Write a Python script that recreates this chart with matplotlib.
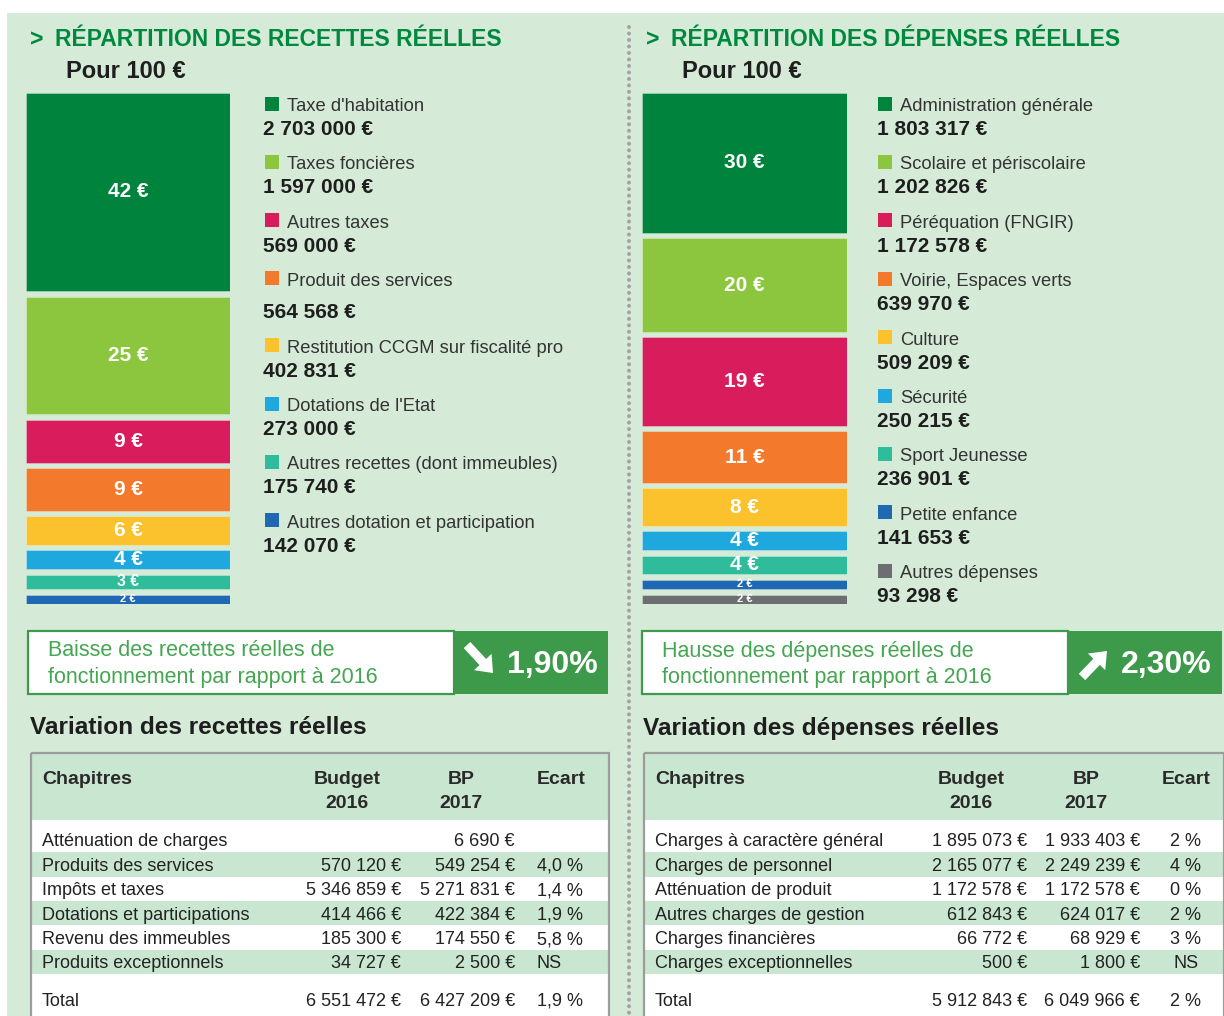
import matplotlib
matplotlib.use("Agg")
import matplotlib.pyplot as plt
from matplotlib.patches import Rectangle, FancyArrow
import numpy as np

# --- data ---------------------------------------------------------------
recettes_labels = ["Taxe d'habitation", "Taxes foncières", "Autres taxes",
                   "Produit des services", "Restitution CCGM sur fiscalité pro",
                   "Dotations de l'Etat", "Autres recettes (dont immeubles)",
                   "Autres dotation et participation"]
recettes_montants = [2703000, 1597000, 569000, 564568, 402831, 273000, 175740, 142070]
recettes_pour100 = [42, 25, 9, 9, 6, 4, 3, 2]

depenses_labels = ["Administration générale", "Scolaire et périscolaire",
                   "Péréquation (FNGIR)", "Voirie, Espaces verts", "Culture",
                   "Sécurité", "Sport Jeunesse", "Petite enfance", "Autres dépenses"]
depenses_montants = [1803317, 1202826, 1172578, 639970, 509209, 250215, 236901, 141653, 93298]
depenses_pour100 = [30, 20, 19, 11, 8, 4, 4, 2, 2]

rec_chapitres = ["Atténuation de charges", "Produits des services", "Impôts et taxes",
                 "Dotations et participations", "Revenu des immeubles",
                 "Produits exceptionnels"]
rec_budget2016 = [None, 570120, 5346859, 414466, 185300, 34727]
rec_bp2017 = [6690, 549254, 5271831, 422384, 174550, 2500]
rec_ecart = ["", "4,0 %", "1,4 %", "1,9 %", "5,8 %", "NS"]
rec_total = [6551472, 6427209, "1,9 %"]

dep_chapitres = ["Charges à caractère général", "Charges de personnel",
                 "Atténuation de produit", "Autres charges de gestion",
                 "Charges financières", "Charges exceptionnelles"]
dep_budget2016 = [1895073, 2165077, 1172578, 612843, 66772, 500]
dep_bp2017 = [1933403, 2249239, 1172578, 624017, 68929, 1800]
dep_ecart = ["2 %", "4 %", "0 %", "2 %", "3 %", "NS"]
dep_total = [5912843, 6049966, "2 %"]

variation_recettes = "1,90%"
variation_depenses = "2,30%"

colors9 = ["#00843d", "#8cc63f", "#d91c5b", "#f37a2d", "#fbc22d",
           "#1ea8de", "#2ebc9b", "#1f68b4", "#6d6e71"]

# --- style --------------------------------------------------------------
BG = "#d5ebd7"
TITLE_GREEN = "#00893e"
BOX_GREEN = "#3c9a4a"
TEXT_GREEN = "#45a651"
BAND = "#c9e6d0"
DARK = "#1e1e1e"

plt.rcParams["font.family"] = ["Liberation Sans", "DejaVu Sans"]


def euros(v):
    if v is None:
        return ""
    return f"{v:,}".replace(",", " ") + " €"


fig = plt.figure(figsize=(12.24, 10.16), dpi=100)
fig.patch.set_facecolor("white")
ax = fig.add_axes([0, 0, 1, 1])
ax.set_xlim(0, 1224)
ax.set_ylim(1016, 0)
ax.axis("off")

ax.add_patch(Rectangle((7, 13), 1217, 1003, fc=BG, ec="none", zorder=0))
# dotted separator
ax.plot([629, 629], [27, 1016], color="#a3a3a3", lw=2.9,
        ls=(0, (0.01, 1.6)), dash_capstyle="round", zorder=1)


def titles(x, title):
    ax.text(x, 40, ">", color=TITLE_GREEN, fontsize=16.5, fontweight="bold",
            va="center")
    ax.text(x + 25, 40, title, color=TITLE_GREEN, fontsize=16.5,
            fontweight="bold", va="center")
    ax.text(x + 36, 71, "Pour 100 €", color=DARK, fontsize=17,
            fontweight="bold", va="center")


def stack(x0, x1, y0, y1, pour100, colors):
    fx0, fx1 = x0 / 1224, x1 / 1224
    bax = fig.add_axes([fx0, 1 - y1 / 1016, fx1 - fx0, (y1 - y0) / 1016])
    bax.axis("off")
    shares = np.array(pour100, dtype=float)
    gap = 1.2
    total = shares.sum() + gap * (len(shares) - 1)
    bax.set_xlim(0, 1)
    bax.set_ylim(total, 0)
    k = (y1 - y0) / total
    bottoms = np.concatenate([[0], np.cumsum(shares)[:-1]]) + gap * np.arange(len(shares))
    bars = bax.bar(0.5, shares, width=1.0, bottom=bottoms, color=colors,
                   edgecolor="#ffffff55", linewidth=0.6)
    for b, s, p, patch in zip(bottoms, shares, pour100, bars.patches):
        px = s * k
        fs = min(15, max(8, px * 0.8))
        t = bax.text(0.5, b + s / 2, f"{p} €", color="white", fontsize=fs,
                     fontweight="bold", ha="center", va="center")
        t.set_clip_path(patch)


def legend(xsq, xtxt, xval, ylabels, labels, montants, colors, val_offsets):
    for y, lab, m, c, off in zip(ylabels, labels, montants, colors, val_offsets):
        ax.add_patch(Rectangle((xsq, y - 8.5), 14, 14, fc=c, ec="none"))
        ax.text(xtxt, y + 1.5, lab, color="#333333", fontsize=13.2, va="center")
        ax.text(xval, y + off + 1.5, euros(m), color=DARK, fontsize=15,
                fontweight="bold", va="center")


def box(x0, xs, x1, line1, line2, pct, up):
    y0, y1 = 631, 694
    ax.add_patch(Rectangle((x0, y0), xs - x0, y1 - y0, fc="white",
                           ec=BOX_GREEN, lw=1.6))
    ax.add_patch(Rectangle((xs, y0), x1 - xs, y1 - y0, fc=BOX_GREEN, ec="none"))
    ax.text(x0 + 20, 651, line1, color=TEXT_GREEN, fontsize=15.5, va="center")
    ax.text(x0 + 20, 678, line2, color=TEXT_GREEN, fontsize=15.5, va="center")
    if up:
        arr = FancyArrow(xs + 14, 677, 25, -26, width=9, head_width=24,
                         head_length=15, length_includes_head=True,
                         fc="white", ec="none")
    else:
        arr = FancyArrow(xs + 13, 645, 26, 28, width=9, head_width=24,
                         head_length=15, length_includes_head=True,
                         fc="white", ec="none")
    ax.add_patch(arr)
    ax.text(xs + 53, 665, pct, color="white", fontsize=23, fontweight="bold",
            va="center")


def table(x0, x1, heading, chapitres, budget, bp, ecart, total,
          c_bud, c_bp, c_ec, ec_align):
    ax.text(x0 - 1, 728, heading, color=DARK, fontsize=17.6, fontweight="bold",
            va="center")
    top, hb = 753, 820
    ax.add_patch(Rectangle((x0, top), x1 - x0, hb - top, fc=BAND, ec="none"))
    ax.add_patch(Rectangle((x0, hb), x1 - x0, 1016 - hb, fc="white", ec="none"))
    rh = 24.4
    centers = 840 + rh * np.arange(len(chapitres))
    for i, c in enumerate(centers):
        if i % 2 == 1:
            ax.add_patch(Rectangle((x0, c - rh / 2), x1 - x0, rh, fc=BAND, ec="none"))
    ax.add_patch(Rectangle((x0, top), x1 - x0, 300, fc="none", ec="#9c9c9c", lw=1.6))
    tx = x0 + 11
    hk = dict(color="#2a2a2a", fontsize=14, fontweight="bold", va="center")
    ax.text(tx, 780, "Chapitres", **hk)
    ax.text(c_bud[0], 780, "Budget", ha="center", **hk)
    ax.text(c_bud[0], 804, "2016", ha="center", **hk)
    ax.text(c_bp[0], 780, "BP", ha="center", **hk)
    ax.text(c_bp[0], 804, "2017", ha="center", **hk)
    ax.text(c_ec, 780, "Ecart", ha=ec_align, **hk)
    rk = dict(color="#222222", fontsize=13, va="center")
    rows = list(zip(chapitres, budget, bp, ecart, centers))
    rows.append(("Total", total[0], total[1], total[2], 999))
    for name, b, p, e, y in rows:
        ax.text(tx, y + 2, name, **rk)
        ax.text(c_bud[1], y + 2, euros(b), ha="right", **rk)
        ax.text(c_bp[1], y + 2, euros(p), ha="right", **rk)
        ax.text(c_ec, y + 2, e, ha=ec_align, **rk)


# --- left: recettes -----------------------------------------------------
titles(30, "RÉPARTITION DES RECETTES RÉELLES")
stack(26, 230, 93, 604, recettes_pour100, colors9[:8])
yl = 105 + 58.3 * np.arange(len(recettes_labels)) + np.where(np.arange(8) >= 4, 8.5, 0)
legend(265, 287, 263, yl, recettes_labels, recettes_montants, colors9[:8],
       [23, 23, 23, 31, 23, 23, 23, 23])
box(28, 454, 608, "Baisse des recettes réelles de",
    "fonctionnement par rapport à 2016", variation_recettes, up=False)
table(31, 609, "Variation des recettes réelles", rec_chapitres, rec_budget2016,
      rec_bp2017, rec_ecart, rec_total, (347, 401), (461, 515), 537, "left")

# --- right: dépenses ----------------------------------------------------
titles(646, "RÉPARTITION DES DÉPENSES RÉELLES")
stack(642, 847, 93, 604, depenses_pour100, colors9)
yr = 105 + 58.4 * np.arange(len(depenses_labels))
legend(878, 900, 877, yr, depenses_labels, depenses_montants, colors9, [23] * 9)
box(642, 1068, 1222, "Hausse des dépenses réelles de",
    "fonctionnement par rapport à 2016", variation_depenses, up=True)
table(644, 1224, "Variation des dépenses réelles", dep_chapitres, dep_budget2016,
      dep_bp2017, dep_ecart, dep_total, (971, 1027), (1086, 1140), 1186, "center")

fig.savefig("out.png", dpi=100, facecolor="white")
